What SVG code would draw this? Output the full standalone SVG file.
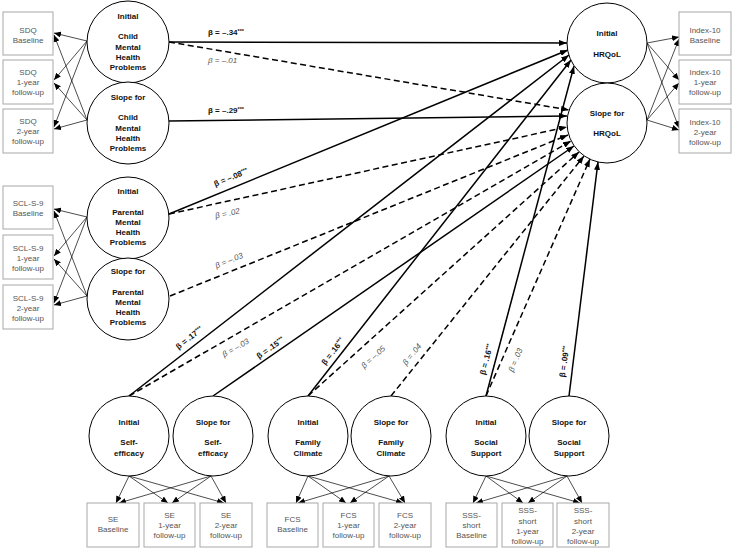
<svg xmlns="http://www.w3.org/2000/svg" width="733" height="549" viewBox="0 0 733 549">
<defs>
<marker id="ah" markerUnits="userSpaceOnUse" markerWidth="8" markerHeight="6" refX="8" refY="3" orient="auto"><path d="M0,0 L8,3 L0,6 z" fill="#000"/></marker>
<marker id="am" markerUnits="userSpaceOnUse" markerWidth="7" markerHeight="6" refX="7" refY="3" orient="auto"><path d="M0,0 L7,3 L0,6 z" fill="#000"/></marker>
<style>
.c{fill:#fff;stroke:#000;stroke-width:1}
.b{fill:#fff;stroke:#a8a8a8;stroke-width:1}
.ct{font-family:"Liberation Sans",Arial,sans-serif;font-size:8px;font-weight:bold;text-anchor:middle;fill:#111}
.bt{font-family:"Liberation Sans",Arial,sans-serif;font-size:8px;text-anchor:middle;fill:#555}
.s{stroke:#000;stroke-width:1.5;fill:none;marker-end:url(#ah)}
.d{stroke:#000;stroke-width:1.5;fill:none;stroke-dasharray:6 3.5;marker-end:url(#ah)}
.m{stroke:#000;stroke-width:0.7;fill:none;marker-end:url(#am)}
.lb{font-family:"Liberation Sans",Arial,sans-serif;font-size:8px;font-weight:bold;fill:#111}
.li{font-family:"Liberation Sans",Arial,sans-serif;font-size:8px;font-style:italic;fill:#555}
.sup{font-size:5.5px}
</style>
</defs>
<g id="connectors">
<line class="s" x1="169" y1="42" x2="567" y2="43"/>
<line class="s" x1="169" y1="214" x2="568" y2="50"/>
<line class="s" x1="129" y1="396" x2="569" y2="55"/>
<line class="s" x1="308" y1="396" x2="571" y2="60"/>
<line class="s" x1="486" y1="396" x2="574" y2="66"/>
<line class="d" x1="169" y1="42" x2="569" y2="110"/>
<line class="s" x1="169" y1="121" x2="567" y2="116"/>
<line class="d" x1="169" y1="214" x2="567" y2="127"/>
<line class="d" x1="170" y1="296" x2="568" y2="135"/>
<line class="d" x1="129" y1="396" x2="571" y2="141"/>
<line class="s" x1="213" y1="396" x2="574" y2="146"/>
<line class="d" x1="308" y1="396" x2="579" y2="152"/>
<line class="d" x1="391" y1="396" x2="584" y2="156"/>
<line class="d" x1="486" y1="396" x2="590" y2="159"/>
<line class="s" x1="569" y1="396" x2="598" y2="162"/>
<line class="m" x1="87" y1="41" x2="54" y2="33"/>
<line class="m" x1="87" y1="41" x2="54" y2="80"/>
<line class="m" x1="87" y1="41" x2="54" y2="127"/>
<line class="m" x1="87" y1="120" x2="54" y2="35"/>
<line class="m" x1="87" y1="120" x2="54" y2="83"/>
<line class="m" x1="87" y1="120" x2="54" y2="129"/>
<line class="m" x1="87" y1="217" x2="54" y2="209"/>
<line class="m" x1="87" y1="217" x2="54" y2="256"/>
<line class="m" x1="87" y1="217" x2="54" y2="303"/>
<line class="m" x1="87" y1="296" x2="54" y2="211"/>
<line class="m" x1="87" y1="296" x2="54" y2="259"/>
<line class="m" x1="87" y1="296" x2="54" y2="305"/>
<line class="m" x1="647" y1="43" x2="679" y2="37"/>
<line class="m" x1="647" y1="43" x2="679" y2="80"/>
<line class="m" x1="647" y1="43" x2="679" y2="128"/>
<line class="m" x1="647" y1="120" x2="679" y2="39"/>
<line class="m" x1="647" y1="120" x2="679" y2="83"/>
<line class="m" x1="647" y1="120" x2="679" y2="130"/>
<line class="m" x1="129" y1="476" x2="116" y2="503"/>
<line class="m" x1="129" y1="476" x2="168" y2="503"/>
<line class="m" x1="129" y1="476" x2="224" y2="503"/>
<line class="m" x1="211" y1="476" x2="119" y2="503"/>
<line class="m" x1="211" y1="476" x2="172" y2="503"/>
<line class="m" x1="211" y1="476" x2="226" y2="503"/>
<line class="m" x1="308" y1="476" x2="296" y2="503"/>
<line class="m" x1="308" y1="476" x2="346" y2="503"/>
<line class="m" x1="308" y1="476" x2="403" y2="503"/>
<line class="m" x1="389" y1="476" x2="298" y2="503"/>
<line class="m" x1="389" y1="476" x2="350" y2="503"/>
<line class="m" x1="389" y1="476" x2="405" y2="503"/>
<line class="m" x1="486" y1="476" x2="473" y2="503"/>
<line class="m" x1="486" y1="476" x2="523" y2="503"/>
<line class="m" x1="486" y1="476" x2="580" y2="503"/>
<line class="m" x1="567" y1="476" x2="476" y2="503"/>
<line class="m" x1="567" y1="476" x2="528" y2="503"/>
<line class="m" x1="567" y1="476" x2="582" y2="503"/>
</g>
<g id="labels">
<text class="lb" x="208" y="35">β = –.34<tspan class="sup" dy="-2.5">***</tspan></text>
<text class="li" x="208" y="63">β = –.01</text>
<text class="lb" x="208" y="113">β = –.29<tspan class="sup" dy="-2.5">***</tspan></text>
<text class="lb" text-anchor="middle" transform="translate(232,180) rotate(-22)">β = –.08<tspan class="sup" dy="-2.5">***</tspan></text>
<text class="li" text-anchor="middle" transform="translate(228,216) rotate(-12)">β = .02</text>
<text class="li" text-anchor="middle" transform="translate(230,263) rotate(-22)">β = –.03</text>
<text class="lb" text-anchor="middle" transform="translate(191,340) rotate(-38)">β = .17<tspan class="sup" dy="-2.5">***</tspan></text>
<text class="li" text-anchor="middle" transform="translate(237,350) rotate(-30)">β = –.03</text>
<text class="lb" text-anchor="middle" transform="translate(272,350) rotate(-35)">β = .15<tspan class="sup" dy="-2.5">***</tspan></text>
<text class="lb" text-anchor="middle" transform="translate(335,353) rotate(-52)">β = .16<tspan class="sup" dy="-2.5">***</tspan></text>
<text class="li" text-anchor="middle" transform="translate(375,359) rotate(-42)">β = –.05</text>
<text class="li" text-anchor="middle" transform="translate(414,356) rotate(-51)">β = .04</text>
<text class="lb" text-anchor="middle" transform="translate(489,360) rotate(-75)">β = .16<tspan class="sup" dy="-2.5">***</tspan></text>
<text class="li" text-anchor="middle" transform="translate(518,361) rotate(-67)">β = .03</text>
<text class="lb" text-anchor="middle" transform="translate(567,362) rotate(-82)">β = .09<tspan class="sup" dy="-2.5">***</tspan></text>
</g>
<g id="n_cmh_i"><circle class="c" cx="128" cy="42" r="41"/><text class="ct" x="128" y="19">Initial</text><text class="ct" x="128" y="39">Child</text><text class="ct" x="128" y="49.5">Mental</text><text class="ct" x="128" y="60">Health</text><text class="ct" x="128" y="70">Problems</text></g>
<g id="n_cmh_s"><circle class="c" cx="128" cy="123" r="41"/><text class="ct" x="128" y="100">Slope for</text><text class="ct" x="128" y="120">Child</text><text class="ct" x="128" y="130.5">Mental</text><text class="ct" x="128" y="141">Health</text><text class="ct" x="128" y="151">Problems</text></g>
<g id="n_pmh_i"><circle class="c" cx="128" cy="218" r="41"/><text class="ct" x="128" y="194">Initial</text><text class="ct" x="128" y="215">Parental</text><text class="ct" x="128" y="225">Mental</text><text class="ct" x="128" y="235">Health</text><text class="ct" x="128" y="245">Problems</text></g>
<g id="n_pmh_s"><circle class="c" cx="128" cy="299" r="41"/><text class="ct" x="128" y="274">Slope for</text><text class="ct" x="128" y="295">Parental</text><text class="ct" x="128" y="305">Mental</text><text class="ct" x="128" y="315">Health</text><text class="ct" x="128" y="325">Problems</text></g>
<g id="n_hrq_i"><circle class="c" cx="607" cy="43" r="40"/><text class="ct" x="607" y="36">Initial</text><text class="ct" x="607" y="57">HRQoL</text></g>
<g id="n_hrq_s"><circle class="c" cx="607" cy="123" r="40"/><text class="ct" x="607" y="116">Slope for</text><text class="ct" x="607" y="136">HRQoL</text></g>
<g id="n_se_i"><circle class="c" cx="129" cy="436" r="40"/><text class="ct" x="129" y="425">Initial</text><text class="ct" x="129" y="445">Self-</text><text class="ct" x="129" y="455.5">efficacy</text></g>
<g id="n_se_s"><circle class="c" cx="213" cy="436" r="40"/><text class="ct" x="213" y="425">Slope for</text><text class="ct" x="213" y="445">Self-</text><text class="ct" x="213" y="455.5">efficacy</text></g>
<g id="n_fc_i"><circle class="c" cx="308" cy="436" r="40"/><text class="ct" x="308" y="425">Initial</text><text class="ct" x="308" y="445">Family</text><text class="ct" x="308" y="455.5">Climate</text></g>
<g id="n_fc_s"><circle class="c" cx="391" cy="436" r="40"/><text class="ct" x="391" y="425">Slope for</text><text class="ct" x="391" y="445">Family</text><text class="ct" x="391" y="455.5">Climate</text></g>
<g id="n_ss_i"><circle class="c" cx="486" cy="436" r="40"/><text class="ct" x="486" y="425">Initial</text><text class="ct" x="486" y="445">Social</text><text class="ct" x="486" y="455.5">Support</text></g>
<g id="n_ss_s"><circle class="c" cx="569" cy="436" r="40"/><text class="ct" x="569" y="425">Slope for</text><text class="ct" x="569" y="445">Social</text><text class="ct" x="569" y="455.5">Support</text></g>
<g id="b_sdq0"><rect class="b" x="3" y="12" width="50" height="43"/><text class="bt" x="28" y="33">SDQ</text><text class="bt" x="28" y="43">Baseline</text></g>
<g id="b_sdq1"><rect class="b" x="3" y="60" width="50" height="44"/><text class="bt" x="28" y="75">SDQ</text><text class="bt" x="28" y="85">1-year</text><text class="bt" x="28" y="95">follow-up</text></g>
<g id="b_sdq2"><rect class="b" x="3" y="109" width="50" height="44"/><text class="bt" x="28" y="124">SDQ</text><text class="bt" x="28" y="134">2-year</text><text class="bt" x="28" y="144">follow-up</text></g>
<g id="b_scl0"><rect class="b" x="3" y="186" width="50" height="43"/><text class="bt" x="28" y="206">SCL-S-9</text><text class="bt" x="28" y="216">Baseline</text></g>
<g id="b_scl1"><rect class="b" x="3" y="235" width="50" height="44"/><text class="bt" x="28" y="251">SCL-S-9</text><text class="bt" x="28" y="261">1-year</text><text class="bt" x="28" y="271">follow-up</text></g>
<g id="b_scl2"><rect class="b" x="3" y="285" width="50" height="44"/><text class="bt" x="28" y="301">SCL-S-9</text><text class="bt" x="28" y="311">2-year</text><text class="bt" x="28" y="321">follow-up</text></g>
<g id="b_idx0"><rect class="b" x="679" y="12" width="52" height="43"/><text class="bt" x="705" y="33">Index-10</text><text class="bt" x="705" y="43">Baseline</text></g>
<g id="b_idx1"><rect class="b" x="679" y="60" width="52" height="44"/><text class="bt" x="705" y="75">Index-10</text><text class="bt" x="705" y="85">1-year</text><text class="bt" x="705" y="95">follow-up</text></g>
<g id="b_idx2"><rect class="b" x="679" y="109" width="52" height="44"/><text class="bt" x="705" y="125">Index-10</text><text class="bt" x="705" y="135">2-year</text><text class="bt" x="705" y="145">follow-up</text></g>
<g id="b_se0"><rect class="b" x="87" y="503" width="52" height="44"/><text class="bt" x="113" y="522">SE</text><text class="bt" x="113" y="532">Baseline</text></g>
<g id="b_se1"><rect class="b" x="144" y="503" width="51" height="44"/><text class="bt" x="169.5" y="518">SE</text><text class="bt" x="169.5" y="528">1-year</text><text class="bt" x="169.5" y="538">follow-up</text></g>
<g id="b_se2"><rect class="b" x="200" y="503" width="52" height="44"/><text class="bt" x="226" y="518">SE</text><text class="bt" x="226" y="528">2-year</text><text class="bt" x="226" y="538">follow-up</text></g>
<g id="b_fcs0"><rect class="b" x="267" y="503" width="51" height="44"/><text class="bt" x="292.5" y="522">FCS</text><text class="bt" x="292.5" y="532">Baseline</text></g>
<g id="b_fcs1"><rect class="b" x="323" y="503" width="51" height="44"/><text class="bt" x="348.5" y="518">FCS</text><text class="bt" x="348.5" y="528">1-year</text><text class="bt" x="348.5" y="538">follow-up</text></g>
<g id="b_fcs2"><rect class="b" x="379" y="503" width="52" height="44"/><text class="bt" x="405" y="518">FCS</text><text class="bt" x="405" y="528">2-year</text><text class="bt" x="405" y="538">follow-up</text></g>
<g id="b_sss0"><rect class="b" x="446" y="503" width="51" height="44"/><text class="bt" x="471.5" y="518">SSS-</text><text class="bt" x="471.5" y="528">short</text><text class="bt" x="471.5" y="538">Baseline</text></g>
<g id="b_sss1"><rect class="b" x="502" y="503" width="51" height="44"/><text class="bt" x="527.5" y="513">SSS-</text><text class="bt" x="527.5" y="523.5">short</text><text class="bt" x="527.5" y="534">1-year</text><text class="bt" x="527.5" y="544">follow-up</text></g>
<g id="b_sss2"><rect class="b" x="557" y="503" width="52" height="44"/><text class="bt" x="583" y="513">SSS-</text><text class="bt" x="583" y="523.5">short</text><text class="bt" x="583" y="534">2-year</text><text class="bt" x="583" y="544">follow-up</text></g>
</svg>
